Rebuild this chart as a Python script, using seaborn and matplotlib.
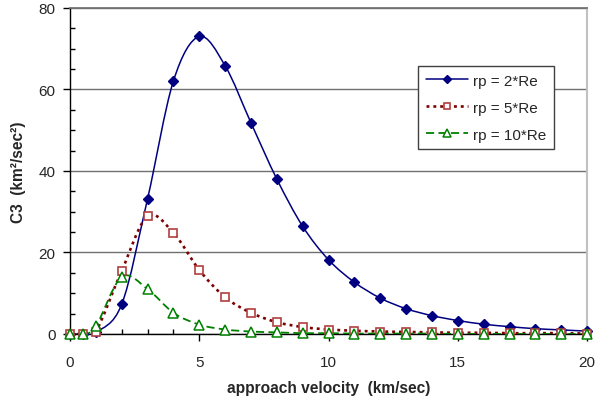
import numpy as np
import pandas as pd
import matplotlib
matplotlib.use("Agg")
import matplotlib.pyplot as plt
import seaborn as sns
from matplotlib.path import Path
from matplotlib.patches import PathPatch
from matplotlib.lines import Line2D
from matplotlib.ticker import MultipleLocator

# approach velocity (km/sec)
velocity = [0, 0.5, 1, 2, 3, 4, 5, 6, 7, 8, 9, 10, 11, 12, 13, 14, 15, 16, 17, 18, 19, 20]
# C3 (km^2/sec^2) for each periapsis radius
c3_rp2 = [0.0, 0.0, 0.4, 7.3, 33.2, 62.1, 73.0, 65.8, 51.8, 38.0, 26.4, 18.2, 12.7,
          8.8, 6.2, 4.5, 3.3, 2.4, 1.8, 1.3, 1.0, 0.7]
c3_rp5 = [0.0, 0.0, 0.6, 15.5, 28.9, 24.8, 15.7, 9.0, 5.2, 2.9, 1.7, 1.1, 0.8,
          0.6, 0.5, 0.4, 0.3, 0.3, 0.2, 0.2, 0.2, 0.1]
c3_rp10 = [0.0, 0.0, 1.9, 14.0, 11.0, 5.2, 2.3, 1.1, 0.6, 0.4, 0.2, 0.2, 0.1,
           0.1, 0.1, 0.1, 0.0, 0.0, 0.0, 0.0, 0.0, 0.0]
series_labels = ["rp = 2*Re", "rp = 5*Re", "rp = 10*Re"]

x_ticks = [0, 5, 10, 15, 20]
y_ticks = [0, 20, 40, 60, 80]

sns.set_theme(style="white")
plt.rcParams["font.family"] = ["Liberation Sans", "DejaVu Sans"]

fig = plt.figure(figsize=(6.02, 4.02), dpi=100)
ax = fig.add_axes([0.1163, 0.1667, 0.859, 0.811])


def smooth_path(xs, ys):
    """Bezier path through every data point (Catmull-Rom style smoothing)."""
    pts = np.column_stack([xs, ys]).astype(float)
    n = len(pts)
    verts = [pts[0]]
    codes = [Path.MOVETO]
    for i in range(n - 1):
        p0 = pts[max(i - 1, 0)]
        p1 = pts[i]
        p2 = pts[i + 1]
        p3 = pts[min(i + 2, n - 1)]
        verts += [p1 + (p2 - p0) / 6.0, p2 - (p3 - p1) / 6.0, p2]
        codes += [Path.CURVE4] * 3
    return Path(verts, codes)


styles = [
    dict(line="#000080", ls="-", lw=1.1, marker="D", ms=5.5, mfc="#000080", mec="#000080", mew=1.0),
    dict(line="#800000", ls=(0, (1.1, 1.5)), lw=1.9, marker="s", ms=5.5, mfc="white", mec="#b04040", mew=1.2),
    dict(line="#008000", ls=(0, (4.5, 2.4)), lw=1.3, marker="^", ms=7, mfc="white", mec="#008000", mew=1.1),
]

frame = pd.DataFrame({"velocity": velocity, series_labels[0]: c3_rp2,
                      series_labels[1]: c3_rp5, series_labels[2]: c3_rp10})

handles = []
for label, st in zip(series_labels, styles):
    patch = PathPatch(smooth_path(frame["velocity"], frame[label]), facecolor="none",
                      edgecolor=st["line"], linestyle=st["ls"], linewidth=st["lw"], zorder=3)
    ax.add_patch(patch)
    sns.lineplot(data=frame, x="velocity", y=label, ax=ax, linestyle="none",
                 marker=st["marker"], markersize=st["ms"], markerfacecolor=st["mfc"],
                 markeredgecolor=st["mec"], markeredgewidth=st["mew"], zorder=4,
                 clip_on=False, legend=False)
    handles.append(Line2D([], [], color=st["line"], linestyle=st["ls"], linewidth=st["lw"],
                          marker=st["marker"], markersize=st["ms"] * 0.8,
                          markerfacecolor=st["mfc"], markeredgecolor=st["mec"],
                          markeredgewidth=st["mew"]))

ax.set_xlim(0, 20)
ax.set_ylim(0, 80)
ax.set_xticks(x_ticks)
ax.set_yticks(y_ticks)
ax.xaxis.set_minor_locator(MultipleLocator(1))
ax.yaxis.set_minor_locator(MultipleLocator(5))
ax.tick_params(axis="both", which="major", direction="out", length=5, width=1,
               color="black", labelsize=11)
ax.tick_params(axis="both", which="minor", direction="in", length=3.5, width=1, color="black")
ax.tick_params(axis="x", which="major", pad=10)
ax.tick_params(axis="y", which="major", pad=5.5)
ax.tick_params(axis="x", which="both", bottom=True)
ax.tick_params(axis="y", which="both", left=True)

ax.yaxis.grid(True, which="major", color="#707070", linewidth=1.0)
ax.set_axisbelow(True)

for side in ["left", "bottom"]:
    ax.spines[side].set_color("black")
    ax.spines[side].set_linewidth(1.0)
ax.spines["top"].set_color("#707070")
ax.spines["right"].set_color("#c0c0c0")
ax.spines["right"].set_linewidth(1.5)

ax.set_xlabel("approach velocity  (km/sec)", fontsize=11.2, fontweight="bold", labelpad=8)
ax.set_ylabel("C3  (km²/sec²)", fontsize=11.2, fontweight="bold", labelpad=9)

leg = ax.legend(handles, series_labels, loc="upper left", bbox_to_anchor=(0.673, 0.822),
                borderaxespad=0, frameon=True, fancybox=False, shadow=False,
                fontsize=11, handlelength=2.8, handletextpad=0.3, labelspacing=0.85,
                borderpad=0.5)
leg.get_frame().set_edgecolor("#404040")
leg.get_frame().set_linewidth(1.0)
leg.get_frame().set_facecolor("white")
leg.get_frame().set_alpha(1.0)

fig.savefig("out.png", dpi=100)
